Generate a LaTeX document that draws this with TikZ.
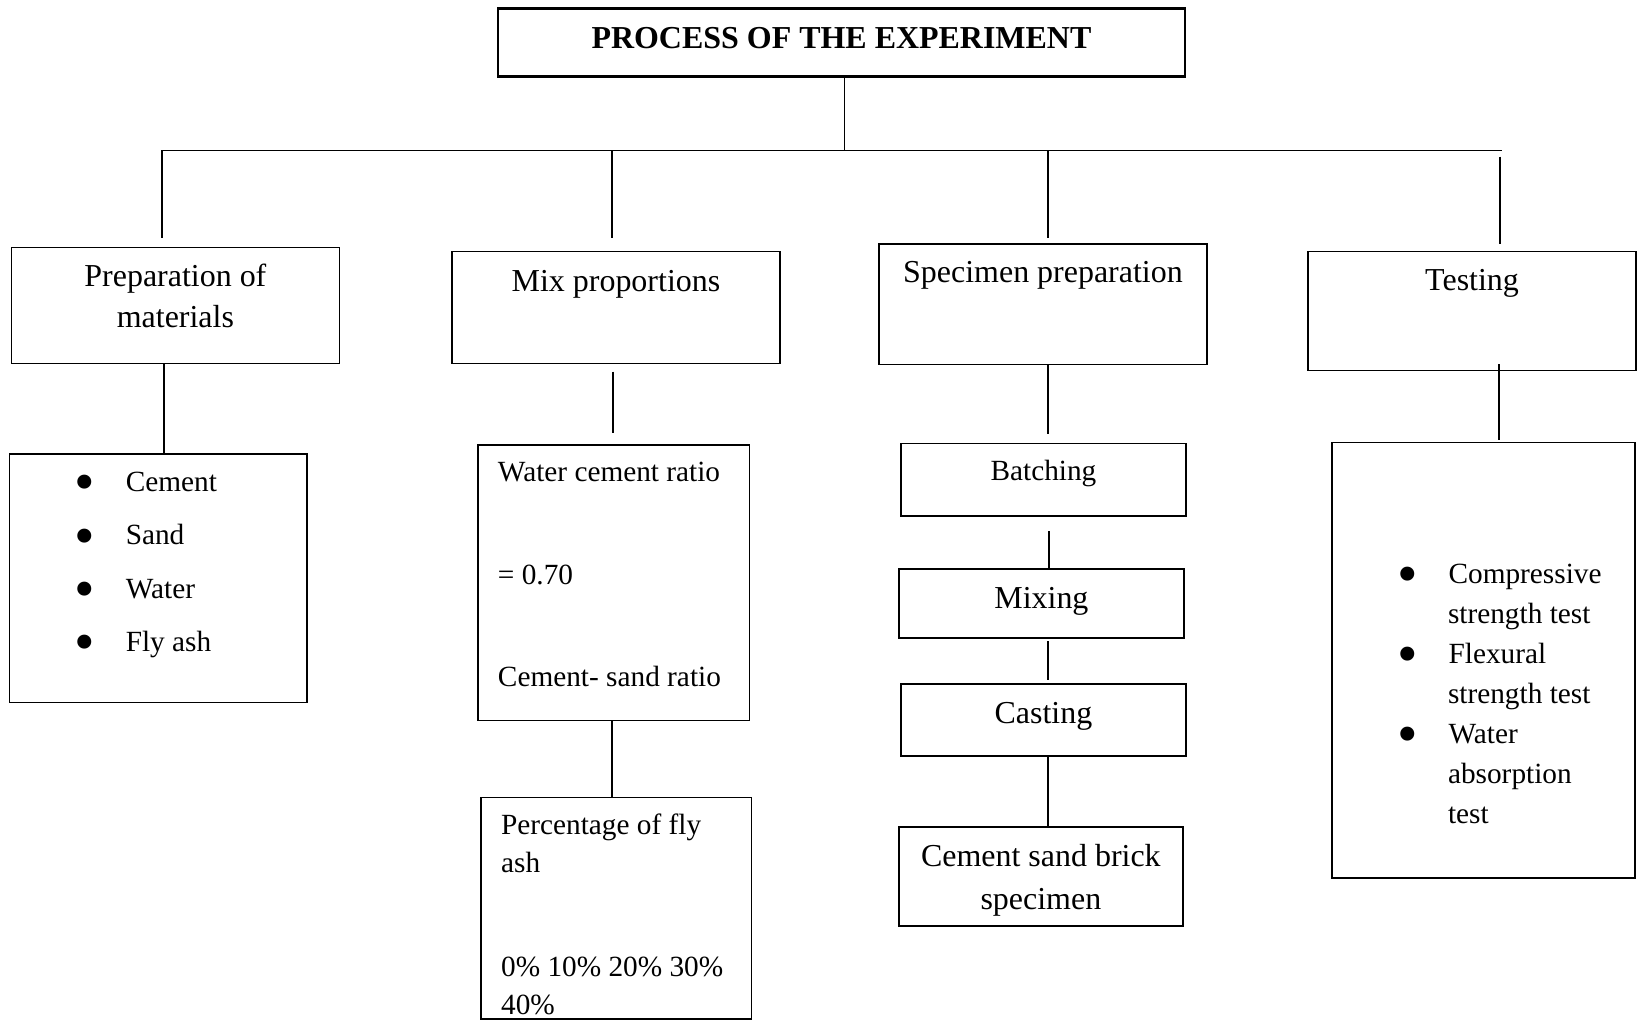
\documentclass[tikz,border=0pt]{standalone}
\usepackage{fontspec}
\setmainfont{Liberation Serif}
\newlength{\pxl}
\setlength{\pxl}{0.392pt}
% width, height, first baseline, setup, text
\newcommand{\boxtext}[5]{\parbox[c][#2\pxl][t]{#1\pxl}{#4\rule{0pt}{#3\pxl}#5}}
\newcommand{\bigdot}{\raisebox{-3.8pt}{\fontsize{22}{22}\selectfont\textbullet}}
\newcommand{\bul}[1]{\hspace*{52\pxl}\makebox[40\pxl]{\bigdot}\hspace*{19.5\pxl}#1}
\newcommand{\cont}[1]{\hspace*{111\pxl}#1}
\newcommand{\twelve}[1]{\centering\fontsize{12}{#1}\selectfont}
\newcommand{\eleven}[1]{\raggedright\fontsize{11}{#1}\selectfont}

\begin{document}
\begin{tikzpicture}
  [x=\pxl, y=-\pxl,
   box/.style={draw=black, line width=0.6pt, inner sep=0pt, outer sep=0pt},
   headbox/.style={box, line width=1pt},
   link/.style={draw=black, line width=0.6pt}]

  \clip (0,0) rectangle (1568,979);

  % Title
  \node[headbox] (title) at (806,40.5)
    {\boxtext{658}{65}{38}{\twelve{14}\bfseries}{PROCESS OF THE EXPERIMENT}};

  % Main steps
  \node[box] (prep) at (168,292.5) {\boxtext{314}{111}{37}{\twelve{15.7pt}}{Preparation of\\materials}};
  \node[box] (mix)  at (590,294.5) {\boxtext{314}{107}{38}{\twelve{15.7pt}}{Mix proportions}};
  \node[box] (spec) at (999,291.5) {\boxtext{314}{115}{37}{\twelve{15.7pt}}{Specimen preparation}};
  \node[box] (test) at (1410,298)  {\boxtext{314}{114}{37}{\twelve{15.7pt}}{Testing}};

  % Details
  \node[box] (mat) at (151.5,554) {\boxtext{285}{238}{36}{\eleven{20pt}}%
    {\bul{Cement}\\\bul{Sand}\\\bul{Water}\\\bul{Fly ash}}};
  \node[box] (wcr) at (588,558) {\boxtext{260}{264}{35}{\eleven{38.6pt}\leftskip=19\pxl}%
    {Water cement ratio\\= 0.70\\Cement- sand ratio}};
  \node[box] (pct) at (590.5,870) {\boxtext{259}{212}{35}{\eleven{14.5pt}\leftskip=19\pxl}%
    {Percentage of fly\\ash\\[62\pxl]0\% 10\% 20\% 30\%\\40\%}};
  \node[box] (batch)  at (999.5,459.5) {\boxtext{273}{69}{35}{\centering\fontsize{11}{14}\selectfont}{Batching}};
  \node[box] (mixing) at (997.5,578)   {\boxtext{273}{66}{38}{\twelve{15pt}}{Mixing}};
  \node[box] (cast)   at (999.5,689.5) {\boxtext{273}{69}{38}{\twelve{15pt}}{Casting}};
  \node[box] (brick)  at (997,839.5)   {\boxtext{272}{95}{38}{\twelve{16pt}}{Cement sand brick\\specimen}};
  \node[box] (tlist)  at (1421,632.5) {\boxtext{290}{417}{135}{\eleven{15pt}}%
    {\bul{Compressive}\\\cont{strength test}\\\bul{Flexural}\\\cont{strength test}\\%
     \bul{Water}\\\cont{absorption}\\\cont{test}}};

  % Tree lines
  \coordinate (busL) at (155,144);
  \coordinate (busR) at (1439,144);
  \coordinate (hub) at (809,144);
  \draw[link] (title.south -| hub) -- (hub);
  \draw[link] (busL) -- (busR);
  \foreach \x/\to/\gap in {155/prep/9, 586/mix/13, 1004/spec/6}
    \draw[link, shorten >=\gap\pxl] (\x,144) -- (\to.north -| \x,0);
  \draw[link, shorten <=6\pxl, shorten >=7\pxl] (1437,144) -- (test.north -| 1437,0);

  % Down to the details
  \draw[link] (prep.south -| 157,0) -- (mat.north -| 157,0);
  \draw[link, shorten <=8\pxl, shorten >=11\pxl] (mix.south -| 587,0) -- (wcr.north -| 587,0);
  \draw[link] (wcr.south -| 586,0) -- (pct.north -| 586,0);
  \draw[link, shorten >=9\pxl] (spec.south -| 1004,0) -- (batch.north -| 1004,0);
  \draw[link, shorten <=15\pxl] (batch.south -| 1005,0) -- (mixing.north -| 1005,0);
  \draw[link, shorten <=3\pxl, shorten >=4\pxl] (mixing.south -| 1004,0) -- (cast.north -| 1004,0);
  \draw[link] (cast.south -| 1004,0) -- (brick.north -| 1004,0);
  \draw[link, shorten <=-6\pxl, shorten >=3\pxl] (test.south -| 1436,0) -- (tlist.north -| 1436,0);
\end{tikzpicture}
\end{document}
